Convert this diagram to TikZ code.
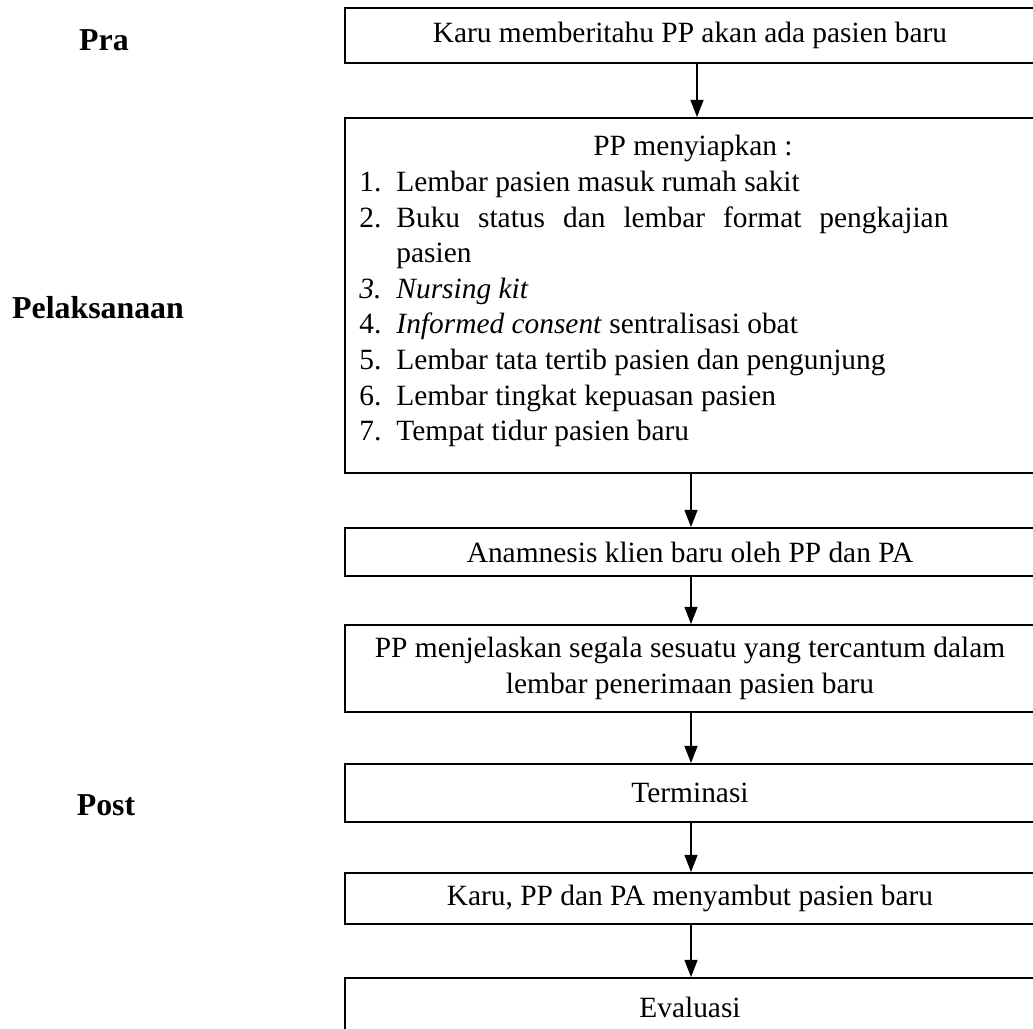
\documentclass[tikz,border=0pt]{standalone}
\usepackage{fontspec}
\setmainfont{Liberation Serif}
\usetikzlibrary{arrows.meta}
\newlength\unitpx
\setlength\unitpx{0.4082pt}
\begin{document}
\begin{tikzpicture}[x=0.4082pt,y=-0.4082pt,
  every node/.style={font=\fontsize{12pt}{14.5pt}\selectfont},
  box/.style={draw, line width=0.8pt, minimum width={690*\unitpx}, inner sep=0pt, align=center},
  lab/.style={font=\fontsize{13pt}{15.5pt}\selectfont\bfseries},
  arr/.style={line width=0.6pt, -{Triangle[width=5.3pt,length=7pt]}}]
\useasboundingbox (0,0) rectangle (1033,1028);
\fill[white] (0,0) rectangle (1033,1028);
\clip (0,0) rectangle (1033,1028);

% phase labels
\node[lab] (pra) at (104,40) {Pra};
\node[lab] (pel) at (98,308) {Pelaksanaan};
\node[lab] (post) at (106,805) {Post};

% boxes
\node[box, minimum height={55*\unitpx}] (b1) at (690,35.5) {Karu memberitahu PP akan ada pasien baru};
\node[box, minimum height={355*\unitpx}] (b2) at (690,295.5) {};
\node (hdr) at (693,148) {PP menyiapkan :};
\node[anchor=north west, inner sep=0pt, align=left] (items) at (359,171) {%
\makebox[15.1pt][l]{1.}Lembar pasien masuk rumah sakit\\
\makebox[15.1pt][l]{2.}\makebox[225.3pt][s]{Buku status dan lembar format pengkajian}\\
\hspace*{15.1pt}pasien\\
\makebox[15.1pt][l]{\itshape 3.}\textit{Nursing kit}\\
\makebox[15.1pt][l]{4.}\textit{Informed consent} sentralisasi obat\\
\makebox[15.1pt][l]{5.}Lembar tata tertib pasien dan pengunjung\\
\makebox[15.1pt][l]{6.}Lembar tingkat kepuasan pasien\\
\makebox[15.1pt][l]{7.}Tempat tidur pasien baru};
\node[box, minimum height={48*\unitpx}] (b3) at (690,552) {Anamnesis klien baru oleh PP dan PA};
\node[box, minimum height={87*\unitpx}] (b4) at (690,668.5) {PP menjelaskan segala sesuatu yang tercantum dalam\\lembar penerimaan pasien baru};
\node[box, minimum height={58*\unitpx}] (b5) at (690,793) {Terminasi};
\node[box, minimum height={51*\unitpx}] (b6) at (690,898.5) {Karu, PP dan PA menyambut pasien baru};
\node[box, minimum height={58*\unitpx}] (b7) at (690,1007) {Evaluasi};

% connectors
\coordinate (cA) at (697,0);
\coordinate (cB) at (691,0);
\draw[arr] (b1.south -| cA) -- (b2.north -| cA);
\draw[arr] (b2.south -| cB) -- (b3.north -| cB);
\draw[arr] (b3.south -| cB) -- (b4.north -| cB);
\draw[arr] (b4.south -| cB) -- (b5.north -| cB);
\draw[arr] (b5.south -| cB) -- (b6.north -| cB);
\draw[arr] (b6.south -| cB) -- (b7.north -| cB);
\end{tikzpicture}
\end{document}
